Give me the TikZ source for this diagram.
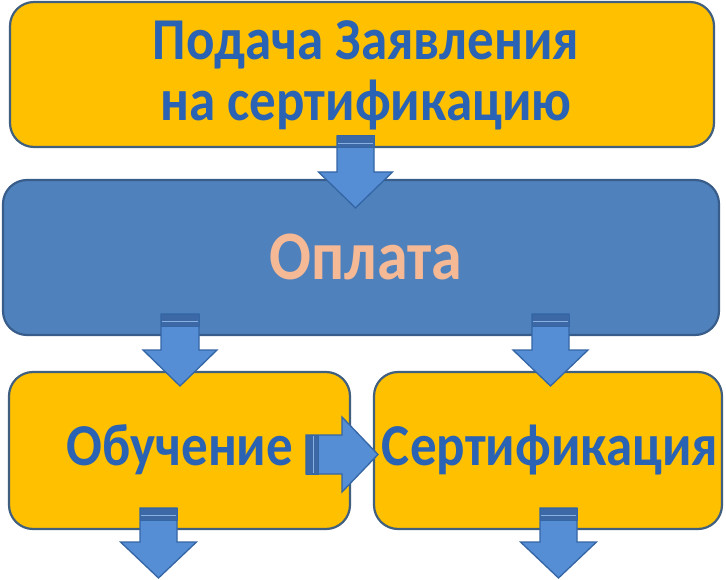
\documentclass[tikz,border=0pt]{standalone}
\usepackage{fontspec}
\usepackage{graphicx}
\setmainfont{Carlito}
\definecolor{boxyellow}{HTML}{FFC000}
\definecolor{yborder}{HTML}{41607F}
\definecolor{boxblue}{HTML}{4F81BD}
\definecolor{bborder}{HTML}{385D8A}
\definecolor{arrfill}{HTML}{558ED5}
\definecolor{arrborder}{HTML}{3465A4}
\definecolor{arrband}{HTML}{3D68A6}
\definecolor{txtblue}{HTML}{2A62B4}
\definecolor{txtpeach}{HTML}{F6B995}
\tikzset{
  ybox/.style={draw=yborder, line width=2.2pt, fill=boxyellow, rounded corners=24pt},
  bbox/.style={draw=bborder, line width=2.2pt, fill=boxblue, rounded corners=24pt},
  blockarrow/.style={draw=arrborder, line width=1.3pt, fill=arrfill, line join=miter},
  bandstyle/.style={draw=arrborder, line width=1.0pt, fill=arrband},
  bluetext/.style={font=\bfseries\fontsize{53}{60}\selectfont, text=txtblue, align=center},
}
\newcommand\tallish[1]{\scalebox{1}[1.12]{#1}}
% down arrow: cx, shaft half width, top, head start, head half width, tip
\newcommand\downblock[6]{%
  \draw[blockarrow] (#1-#2,#3) -- (#1+#2,#3) -- (#1+#2,#4) -- (#1+#5,#4) -- (#1,#6) -- (#1-#5,#4) -- (#1-#2,#4) -- cycle;
  \draw[bandstyle] (#1-#2,#3) rectangle (#1+#2,#3+12);
  \draw[arrfill!70!white, line width=0.8pt] (#1-#2+1,#3+7) -- (#1+#2-1,#3+7);
}
\begin{document}
\begin{tikzpicture}[x=1pt,y=-1pt]
\useasboundingbox (0,0) rectangle (726,580);
% boxes
\draw[ybox] (10,2) rectangle (714,147);
\node[bluetext] (t1) at (366,45) {\tallish{Подача Заявления}};
\node[bluetext] (t1b) at (366,105) {\tallish{на сертификацию}};
\draw[bbox] (3,180) rectangle (719,335);
\node[font=\bfseries\fontsize{62}{64}\selectfont, text=txtpeach] (t2) at (366,257) {\tallish{Оплата}};
\draw[ybox] (9,372) rectangle (350,529);
\node[bluetext] (t3) at (180,450) {\tallish{Обучение}};
\draw[ybox] (374,372) rectangle (722,529);
\node[bluetext] (t4) at (550,450) {\tallish{Сертификация}};
% arrows
\downblock{355.5}{18.5}{136}{172}{37}{208}
\downblock{180}{19}{314}{350}{37}{386}
\downblock{550.5}{18.5}{314}{350}{37.5}{386}
\downblock{158.5}{18.5}{508}{542}{38}{578}
\downblock{558.5}{18.5}{508}{542}{38}{578}
% horizontal arrow
\draw[blockarrow] (306,435) -- (342,435) -- (342,417) -- (378,454.5) -- (342,492) -- (342,474) -- (306,474) -- cycle;
\draw[bandstyle] (306,435) rectangle (318,474);
\draw[arrfill!70!white, line width=0.8pt] (313,436) -- (313,473);
\end{tikzpicture}
\end{document}
